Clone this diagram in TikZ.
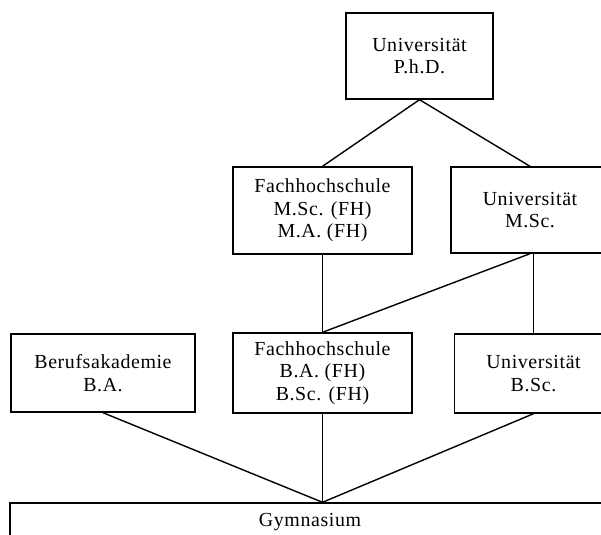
\documentclass[tikz,border=0pt]{standalone}
\usepackage{fontspec}
\setmainfont[LetterSpace=3]{Liberation Serif}
\begin{document}
\begin{tikzpicture}[
    x=0.03cm, y=-0.03cm,
    degree/.style={draw, line width=1.2pt, align=center, inner sep=0pt, font=\fontsize{17}{19.3}\selectfont},
    link/.style={line width=1.2pt}
]
    \useasboundingbox (0,0) rectangle (601,534);
    \clip (0,0) rectangle (601,534);

    % Doctorate
    \node[degree, minimum width=4.41cm, minimum height=2.58cm] (phd) at (419.5,56) {Universität\\P.h.D.};

    % Master level
    \node[degree, minimum width=5.37cm, minimum height=2.61cm] (fhm) at (322.5,210.5) {Fachhochschule\\M.Sc. (FH)\\M.A. (FH)};
    \node[degree, minimum width=4.74cm, minimum height=2.58cm] (unim) at (530,210) {Universität\\M.Sc.};

    % Bachelor level
    \node[degree, minimum width=5.52cm, minimum height=2.34cm] (ba) at (103,373) {Berufsakademie\\B.A.};
    \node[degree, minimum width=5.37cm, minimum height=2.4cm] (fhb) at (322.5,373) {Fachhochschule\\B.A. (FH)\\B.Sc. (FH)};
    \node[degree, minimum width=4.74cm, minimum height=2.37cm] (unib) at (533.5,373.5) {Universität\\B.Sc.};

    % School
    \node[degree, minimum width=18cm, minimum height=1.14cm] (gym) at (310,522) {Gymnasium};
    \coordinate (apex) at (fhb.south |- gym.north);

    % Links
    \draw[link] (phd.south) -- (fhm.north);
    \draw[link] (phd.south) -- (unim.north);
    \draw[link] (fhm.south) -- (fhb.north);
    \draw[link] (unim.south) -- (fhb.north);
    \draw[link] (unib.north) -- (unib.north |- unim.south);
    \draw[link] (ba.south) -- (apex);
    \draw[link] (fhb.south) -- (apex);
    \draw[link] (unib.south) -- (apex);

\end{tikzpicture}
\end{document}
